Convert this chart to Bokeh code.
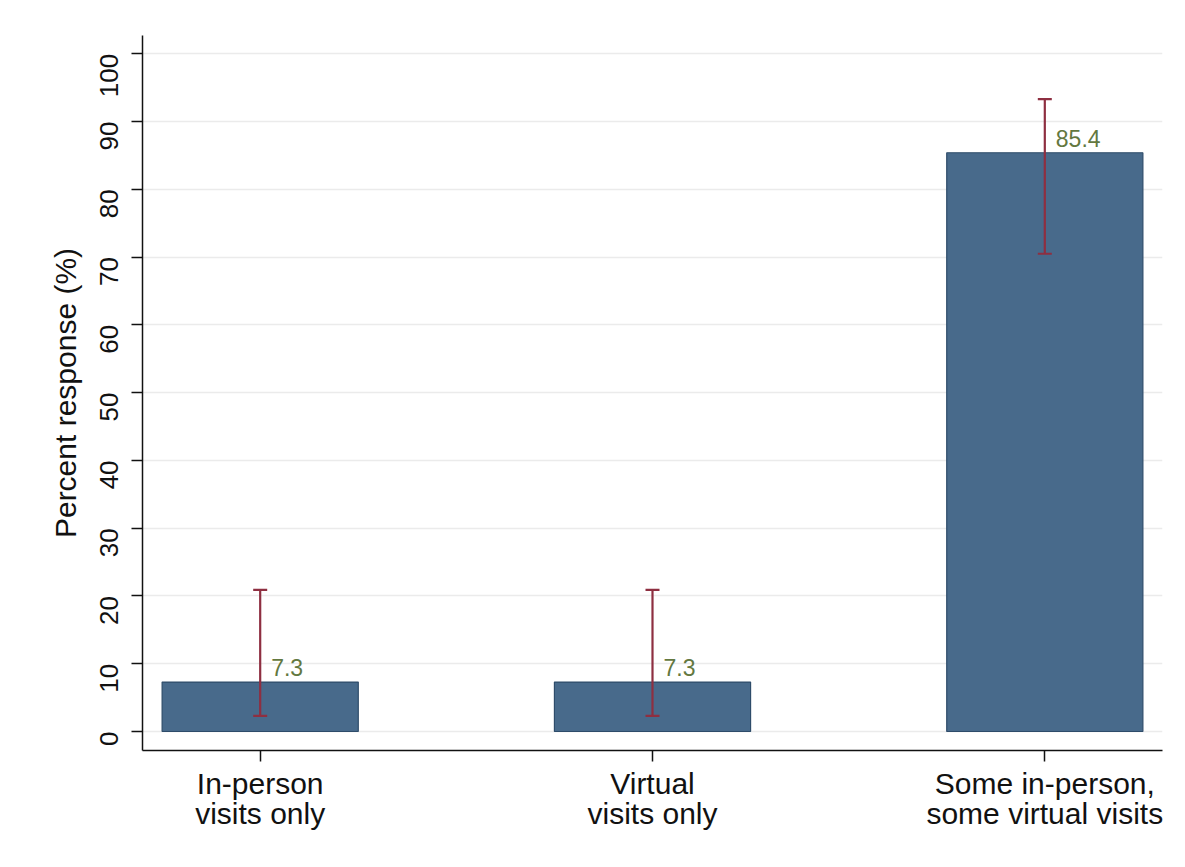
import math
from bokeh.plotting import figure
from bokeh.models import ColumnDataSource, FixedTicker, Whisker, TeeHead
from bokeh.core.properties import value
from bokeh.embed import file_html
from bokeh.resources import INLINE

categories = ["In-person\nvisits only", "Virtual\nvisits only", "Some in-person,\nsome virtual visits"]
percent = [7.3, 7.3, 85.4]
ci_lower = [2.3, 2.3, 70.5]
ci_upper = [20.9, 20.9, 93.3]
y_ticks = [0, 10, 20, 30, 40, 50, 60, 70, 80, 90, 100]

xs = list(range(len(categories)))
src = ColumnDataSource(dict(x=xs, top=percent, lo=ci_lower, hi=ci_upper,
                            lbl=[f"{v:.1f}" for v in percent]))

FONT = "Liberation Sans"

p = figure(width=1169, height=851, output_backend="svg", toolbar_location=None,
           x_range=(-0.3, 2.3), y_range=(-2.8, 102.7),
           min_border_left=142, min_border_right=7, min_border_top=35, min_border_bottom=101)
p.outline_line_color = None
p.background_fill_color = "white"
p.border_fill_color = "white"

p.vbar(x="x", top="top", bottom=0, width=0.5, source=src,
       fill_color="#486a8b", line_color="#2e4c6a", line_width=1.2)

w = Whisker(base="x", lower="lo", upper="hi", source=src, line_color="#8e2f41", line_width=2.2,
            lower_head=TeeHead(size=14, line_color="#8e2f41", line_width=2.2),
            upper_head=TeeHead(size=14, line_color="#8e2f41", line_width=2.2),
            level="overlay")
p.add_layout(w)

p.text(x="x", y="top", text="lbl", source=src, x_offset=11, y_offset=-6,
       text_font=value(FONT), text_font_size="23px", text_color="#63783f",
       text_baseline="bottom", text_align="left")

# axes
p.xgrid.grid_line_color = None
p.ygrid.grid_line_color = "#ebebeb"
p.ygrid.grid_line_width = 1.5
p.yaxis.ticker = FixedTicker(ticks=y_ticks)
p.xaxis.ticker = FixedTicker(ticks=xs)
p.xaxis.major_label_overrides = {i: c for i, c in enumerate(categories)}

for ax in (p.xaxis[0], p.yaxis[0]):
    ax.axis_line_color = "#111111"
    ax.axis_line_width = 1.5
    ax.major_tick_line_color = "#111111"
    ax.major_tick_line_width = 1.5
    ax.major_tick_in = 0
    ax.minor_tick_line_color = None
    ax.major_label_text_font = FONT
    ax.major_label_text_color = "#111111"

p.yaxis.major_tick_out = 11
p.yaxis.major_label_standoff = 22
p.yaxis.major_label_orientation = math.pi / 2
p.yaxis.major_label_text_font_size = "26px"
p.yaxis.axis_label = "Percent response (%)"
p.yaxis.axis_label_text_font = FONT
p.yaxis.axis_label_text_font_style = "normal"
p.yaxis.axis_label_text_font_size = "30px"
p.yaxis.axis_label_text_color = "#111111"
p.yaxis.axis_label_standoff = 7

p.xaxis.major_tick_out = 11
p.xaxis.major_label_standoff = 5
p.xaxis.major_label_text_font_size = "30px"
p.xaxis.major_label_text_line_height = 0.92

open("out.html", "w").write(file_html(p, INLINE))
